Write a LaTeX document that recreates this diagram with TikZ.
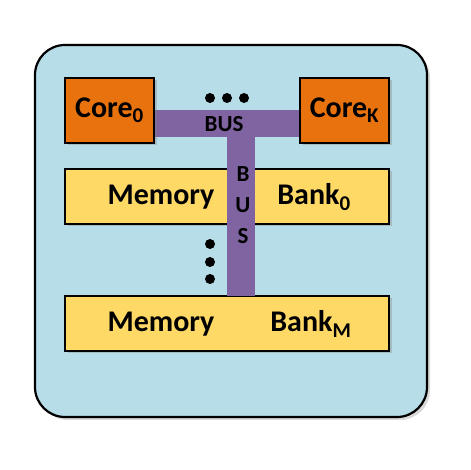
\documentclass[tikz,border=0pt]{standalone}
\usepackage{fontspec}
\setmainfont{Carlito}
\usetikzlibrary{shadows}

\begin{document}
\begin{tikzpicture}[x=1pt,y=1pt,thick,
  shade/.style={drop shadow={shadow xshift=2.5pt,shadow yshift=-2.5pt,opacity=.35}},
  box/.style={draw=black,line width=1.6pt,shade,inner sep=0pt},
  core/.style={box,fill=coreorange,minimum width=89pt,minimum height=65pt,
    font=\fontsize{30}{32}\selectfont\bfseries},
  bank/.style={box,fill=bankyellow,minimum width=324pt,minimum height=55pt},
  lbl/.style={font=\fontsize{30}{32}\selectfont\bfseries,inner sep=0pt},
  buslbl/.style={font=\fontsize{23}{25}\selectfont\bfseries,text=black,inner sep=0pt},
  dot/.style={circle,fill=black,inner sep=0pt,minimum size=10pt}]
\definecolor{bgblue}{RGB}{183,222,232}
\definecolor{coreorange}{RGB}{232,114,14}
\definecolor{bankyellow}{RGB}{255,217,102}
\definecolor{buspurple}{RGB}{128,100,162}
\useasboundingbox (0,0) rectangle (470,470);
\draw[fill=bgblue,line width=2.2pt,rounded corners=30pt,
  drop shadow={shadow xshift=3pt,shadow yshift=-3pt,opacity=.3}]
  (35,53) rectangle (427,425);
% memory banks
\node[bank] (B0) at (227,273.5) {};
\node[bank] (BM) at (227,146.5) {};
% bus
\coordinate (HL) at (154,333);
\coordinate (HR) at (300,360);
\coordinate (VL) at (227,174);
\coordinate (VR) at (255,333);
\fill[buspurple] (HL) rectangle (HR);
\fill[buspurple] (VL) rectangle (VR);
% cores
\node[core] (C0) at (109.5,359.5) {Core\textsubscript{0}};
\node[core] (CK) at (344.5,359.5) {Core\textsubscript{K}};
\node[lbl,anchor=center] (M0) at (161,273) {Memory};
\node[lbl,anchor=west] (K0) at (277,273) {Bank\textsubscript{0}};
\node[lbl,anchor=center] (MM) at (161,146) {Memory};
\node[lbl,anchor=west] (KM) at (270,146) {Bank\textsubscript{M}};
\node[buslbl] (BH) at (224,346) {BUS};
\node[buslbl] (BV1) at (243,296) {B};
\node[buslbl] (BV2) at (243,265) {U};
\node[buslbl] (BV3) at (243,234) {S};
% dots
\foreach \i/\x in {1/210,2/227,3/244}
  \node[dot] (h\i) at (\x,372) {};
\foreach \i/\y in {1/226,2/208,3/191}
  \node[dot] (v\i) at (210,\y) {};
\end{tikzpicture}
\end{document}
